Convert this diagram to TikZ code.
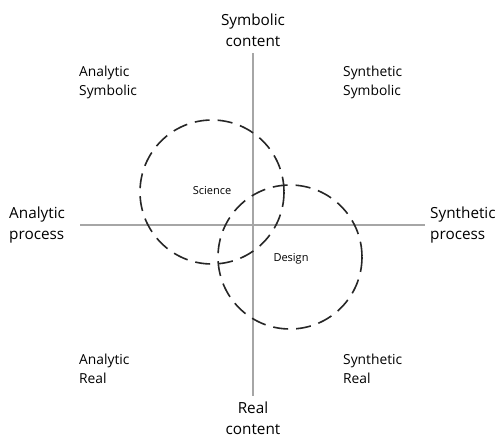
\documentclass[tikz,border=0pt]{standalone}
\usepackage{fontspec}
\setmainfont{Open Sans}
\begin{document}
\begin{tikzpicture}[x=1pt,y=-1pt,
  axis/.style={draw=black!35,line width=1.3pt},
  circ/.style={draw=black!85,line width=1.6pt,dash pattern=on 15pt off 8pt},
  big/.style={font=\fontsize{15.3}{21}\selectfont,align=center,inner sep=0pt},
  quad/.style={font=\fontsize{13.8}{19}\selectfont,align=left,inner sep=0pt,anchor=north west},
  small/.style={font=\fontsize{11}{12}\selectfont,inner sep=0pt}]
\useasboundingbox (0,0) rectangle (501,437);
\coordinate (top) at (253,53);
\coordinate (bot) at (253,396);
\coordinate (lft) at (80,225);
\coordinate (rgt) at (425,225);
\draw[axis] (top) -- (bot);
\draw[axis] (lft) -- (rgt);
\draw[circ] (212,192) circle[radius=72];
\draw[circ] (290,257) circle[radius=72];
\node[small] (sci) at (212,191) {Science};
\node[small] (des) at (291,259) {Design};
\node[big] (sc) at (253,30) {Symbolic\\content};
\node[big] (rc) at (253,418) {Real\\content};
\node[big,align=left,anchor=west] (ap) at (9,225) {Analytic\\process};
\node[big,align=left,anchor=west] (sp) at (430,225) {Synthetic\\process};
\node[quad] (as) at (79,66) {Analytic\\Symbolic};
\node[quad] (ss) at (343,66) {Synthetic\\Symbolic};
\node[quad] (ar) at (79,354) {Analytic\\Real};
\node[quad] (sr) at (343,354) {Synthetic\\Real};
\end{tikzpicture}
\end{document}
